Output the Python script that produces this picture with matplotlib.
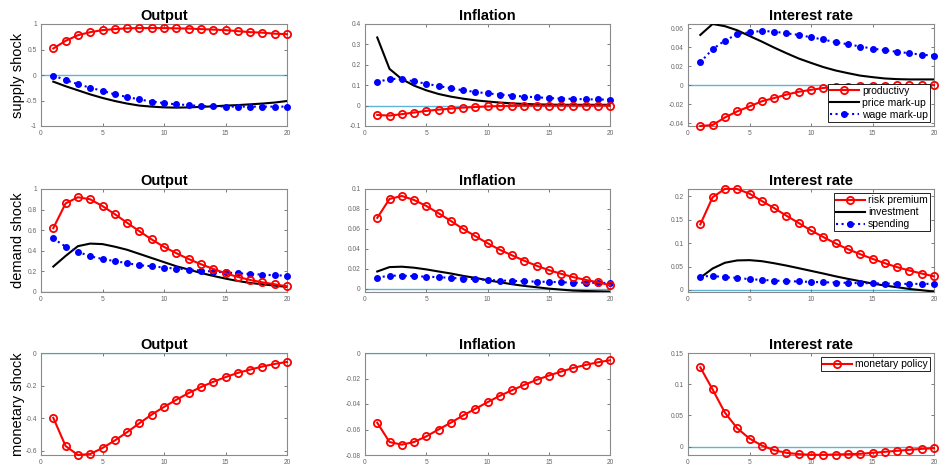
import matplotlib
matplotlib.use("Agg")
import matplotlib.pyplot as plt
from matplotlib.ticker import MultipleLocator, FuncFormatter

plt.rcParams['font.family'] = ['Liberation Sans', 'DejaVu Sans']

periods = list(range(1, 21))

# ---- supply shock ----
sup_out_prod = [0.52, 0.67, 0.78, 0.84, 0.88, 0.90, 0.915, 0.92, 0.92, 0.92,
                0.915, 0.91, 0.90, 0.89, 0.88, 0.86, 0.84, 0.83, 0.81, 0.80]
sup_out_price = [-0.13, -0.22, -0.30, -0.38, -0.45, -0.51, -0.56, -0.60, -0.62, -0.635,
                 -0.64, -0.635, -0.625, -0.615, -0.60, -0.59, -0.575, -0.56, -0.54, -0.51]
sup_out_wage = [-0.01, -0.10, -0.18, -0.25, -0.31, -0.38, -0.43, -0.48, -0.52, -0.55,
                -0.575, -0.59, -0.61, -0.615, -0.62, -0.62, -0.62, -0.62, -0.62, -0.62]

sup_inf_prod = [-0.046, -0.049, -0.042, -0.034, -0.026, -0.020, -0.015, -0.010, -0.007, -0.004,
                -0.002, -0.001, 0.0, 0.0, 0.0, 0.0, 0.0, 0.0, 0.0, 0.0]
sup_inf_price = [0.334, 0.18, 0.13, 0.098, 0.075, 0.057, 0.044, 0.034, 0.026, 0.020,
                 0.015, 0.011, 0.008, 0.006, 0.005, 0.004, 0.004, 0.004, 0.004, 0.004]
sup_inf_wage = [0.114, 0.132, 0.129, 0.119, 0.107, 0.096, 0.085, 0.075, 0.067, 0.060,
                0.054, 0.049, 0.044, 0.041, 0.037, 0.034, 0.033, 0.031, 0.030, 0.029]

sup_int_prod = [-0.043, -0.042, -0.034, -0.0276, -0.0224, -0.017, -0.0136, -0.010, -0.007, -0.005,
                -0.003, -0.002, -0.0015, -0.001, -0.0007, -0.0005, -0.0003, -0.0002, -0.0001, 0.0]
sup_int_price = [0.0528, 0.0643, 0.062, 0.0577, 0.0517, 0.0458, 0.0395, 0.0336, 0.028, 0.0234,
                 0.019, 0.0154, 0.0126, 0.010, 0.0084, 0.007, 0.0063, 0.006, 0.006, 0.006]
sup_int_wage = [0.024, 0.0378, 0.0469, 0.0535, 0.0556, 0.057, 0.0563, 0.0545, 0.0528, 0.0503,
                0.048, 0.0451, 0.043, 0.0406, 0.0385, 0.0367, 0.035, 0.0336, 0.032, 0.031]

# ---- demand shock ----
dem_out_risk = [0.62, 0.86, 0.92, 0.90, 0.834, 0.756, 0.672, 0.59, 0.51, 0.438,
                0.377, 0.32, 0.27, 0.224, 0.182, 0.146, 0.117, 0.094, 0.075, 0.055]
dem_out_inv = [0.247, 0.35, 0.445, 0.47, 0.465, 0.44, 0.41, 0.37, 0.33, 0.29,
               0.25, 0.218, 0.185, 0.156, 0.13, 0.107, 0.088, 0.075, 0.062, 0.049]
dem_out_spend = [0.52, 0.44, 0.39, 0.347, 0.32, 0.30, 0.28, 0.26, 0.25, 0.237,
                 0.227, 0.218, 0.208, 0.198, 0.19, 0.182, 0.175, 0.169, 0.162, 0.159]

dem_inf_risk = [0.071, 0.090, 0.093, 0.089, 0.083, 0.0757, 0.068, 0.060, 0.0527, 0.0456,
                0.039, 0.0334, 0.028, 0.023, 0.0186, 0.0149, 0.0115, 0.0088, 0.0064, 0.0034]
dem_inf_inv = [0.0172, 0.0216, 0.022, 0.021, 0.0193, 0.0172, 0.0152, 0.0128, 0.0108, 0.0084,
               0.0064, 0.0044, 0.0027, 0.0014, 0.0, -0.001, -0.002, -0.0024, -0.0027, -0.003]
dem_inf_spend = [0.011, 0.013, 0.013, 0.0125, 0.012, 0.0115, 0.0108, 0.010, 0.0095, 0.0088,
                 0.0081, 0.0078, 0.0074, 0.007, 0.0068, 0.0064, 0.006, 0.006, 0.0057, 0.0057]

dem_int_risk = [0.14, 0.198, 0.216, 0.2157, 0.2057, 0.19, 0.175, 0.1586, 0.143, 0.127,
                0.113, 0.0993, 0.087, 0.0764, 0.0664, 0.057, 0.0486, 0.0414, 0.035, 0.029]
dem_int_inv = [0.026, 0.0457, 0.058, 0.063, 0.0636, 0.0614, 0.057, 0.052, 0.0464, 0.0407,
               0.035, 0.029, 0.0236, 0.0186, 0.0136, 0.0093, 0.0057, 0.002, -0.0007, -0.0036]
dem_int_spend = [0.0286, 0.030, 0.027, 0.0257, 0.0229, 0.0214, 0.020, 0.0186, 0.018, 0.017,
                 0.0164, 0.0157, 0.015, 0.0143, 0.0143, 0.0136, 0.0129, 0.0129, 0.0129, 0.0129]

# ---- monetary shock ----
mon_out = [-0.398, -0.571, -0.626, -0.62, -0.583, -0.537, -0.486, -0.431, -0.378, -0.331,
           -0.287, -0.246, -0.209, -0.177, -0.148, -0.122, -0.102, -0.083, -0.067, -0.055]
mon_inf = [-0.0547, -0.0698, -0.0719, -0.0698, -0.0654, -0.060, -0.0547, -0.049, -0.0438, -0.0386,
           -0.0336, -0.0292, -0.025, -0.0211, -0.0177, -0.0146, -0.0117, -0.0094, -0.0073, -0.0057]
mon_int = [0.127, 0.0915, 0.0543, 0.0293, 0.0128, 0.0016, -0.0059, -0.0101, -0.0122, -0.0133,
           -0.0133, -0.0128, -0.0122, -0.0117, -0.0101, -0.0085, -0.0069, -0.0053, -0.0037, -0.0027]

titles = ["Output", "Inflation", "Interest rate"]
row_labels = ["supply shock", "demand shock", "monetary shock"]
supply_names = ["productivy", "price mark-up", "wage mark-up"]
demand_names = ["risk premium", "investment", "spending"]
monetary_names = ["monetary policy"]

ylims = [[(-1, 1), (-0.1, 0.4), (-0.043, 0.0643)],
         [(0, 1), (-0.0034, 0.1), (-0.0045, 0.2157)],
         [(-0.626, 0), (-0.08, 0), (-0.0136, 0.15)]]
ysteps = [[0.5, 0.1, 0.02], [0.2, 0.02, 0.05], [0.2, 0.02, 0.05]]

data = [
    [(sup_out_prod, sup_out_price, sup_out_wage),
     (sup_inf_prod, sup_inf_price, sup_inf_wage),
     (sup_int_prod, sup_int_price, sup_int_wage)],
    [(dem_out_risk, dem_out_inv, dem_out_spend),
     (dem_inf_risk, dem_inf_inv, dem_inf_spend),
     (dem_int_risk, dem_int_inv, dem_int_spend)],
    [(mon_out,), (mon_inf,), (mon_int,)],
]
names = [supply_names, demand_names, monetary_names]

W, H = 941, 471
fig = plt.figure(figsize=(W / 100, H / 100), dpi=100)

col_px = [(41, 287), (365, 610), (688, 934)]
row_px = [(24, 126), (189, 292), (353, 455)]

fmt = FuncFormatter(lambda v, p: ("%g" % round(v, 6)) if abs(v) > 1e-12 else "0")

for r in range(3):
    for c in range(3):
        x0, x1 = col_px[c]
        y0, y1 = row_px[r]
        ax = fig.add_axes([x0 / W, 1 - y1 / H, (x1 - x0) / W, (y1 - y0) / H])
        ax.axhline(0, color='#5fb3d9', lw=1.0, zorder=1)
        series = data[r][c]
        handles = []
        h, = ax.plot(periods, series[0], color='red', lw=1.5, marker='o',
                     markersize=5.2, markerfacecolor='none', markeredgewidth=1.3,
                     zorder=4, clip_on=False)
        handles.append(h)
        if len(series) > 1:
            h, = ax.plot(periods, series[1], color='black', lw=1.5, zorder=3)
            handles.append(h)
            h, = ax.plot(periods, series[2], color='#0000ff', lw=1.5, ls=':',
                         marker='o', markersize=4, markerfacecolor='#0000ff',
                         markeredgecolor='#0000ff', zorder=3, clip_on=False)
            handles.append(h)
        ax.set_xlim(0, 20)
        ax.set_ylim(*ylims[r][c])
        ax.xaxis.set_major_locator(MultipleLocator(5))
        ax.yaxis.set_major_locator(MultipleLocator(ysteps[r][c]))
        ax.yaxis.set_major_formatter(fmt)
        ax.tick_params(direction='in', length=2.5, width=0.6, colors='#666666',
                       labelsize=4.8, top=True, right=True, pad=3)
        for s in ax.spines.values():
            s.set_color('#8a8a8a')
            s.set_linewidth(0.8)
        ax.set_title(titles[c], fontsize=10.5, fontweight='bold', pad=3)
        if c == 2:
            loc = 'lower right' if r == 0 else 'upper right'
            leg = ax.legend(handles, names[r], loc=loc, fontsize=7.5, frameon=True,
                            fancybox=False, framealpha=1, edgecolor='black',
                            borderpad=0.2, labelspacing=0.2, handlelength=2.8,
                            handletextpad=0.3, borderaxespad=0.4)
            leg.get_frame().set_linewidth(0.6)
            leg.set_zorder(10)
    fig.text(18 / W, 1 - (row_px[r][0] + row_px[r][1]) / 2 / H, row_labels[r],
             rotation=90, ha='center', va='center', fontsize=10.5)

fig.savefig("out.png", dpi=100)
